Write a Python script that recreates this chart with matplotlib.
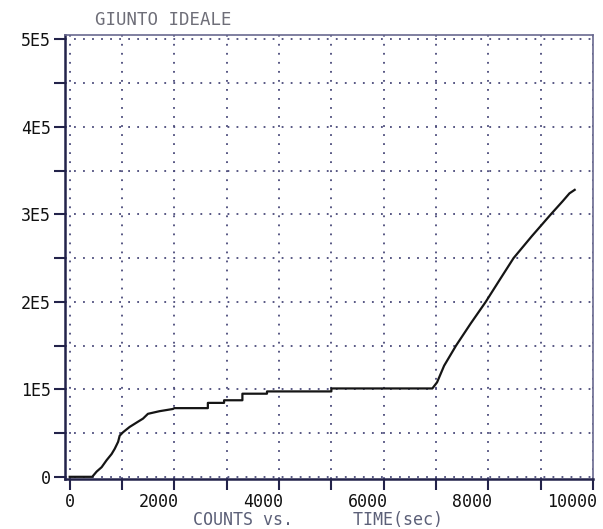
import matplotlib
matplotlib.use("Agg")
import matplotlib.pyplot as plt
from matplotlib.ticker import MultipleLocator, FixedLocator
import matplotlib.transforms as mtrans

# data (time in s, counts); repeated times are the jumps
time_s = [0, 430, 515, 610, 705, 800, 860, 925, 955, 1020, 1145, 1305, 1400, 1495,
          1715, 1970, 2000, 2640, 2640, 2950, 2950, 3300, 3300, 3770, 3770,
          5000, 5000, 6930,
          7020, 7155, 7383, 7660, 7950, 8215, 8482, 8830, 9194, 9420, 9550, 9650]
counts = [0, 0, 6e3, 11e3, 19e3, 26e3, 32e3, 40e3, 47e3, 51e3, 57e3, 63e3, 66.5e3, 72e3,
          75e3, 77.5e3, 78.5e3, 78.5e3, 84.5e3, 84.5e3, 87.5e3, 87.5e3, 95e3, 95e3, 97.6e3,
          97.6e3, 101e3, 101e3,
          108e3, 127e3, 150e3, 175e3, 200e3, 225e3, 250e3, 275e3, 300e3, 315e3, 324e3, 328e3]

ytick_vals = [0, 1e5, 2e5, 3e5, 4e5, 5e5]
ytick_text = ["0", "1E5", "2E5", "3E5", "4E5", "5E5"]
xtick_vals = [0, 2000, 4000, 6000, 8000, 10000]

mono = "DejaVu Sans Mono"
navy = "#23234a"
dotc = "#4a4a7a"

fig = plt.figure(figsize=(6.03, 5.29), dpi=100)
ax = fig.add_axes([65 / 603, 50 / 529, 528 / 603, 444 / 529])

ax.plot(time_s, counts, color="#151515", lw=1.6)

ax.set_xlim(-90, 10000)
ax.set_ylim(-2500, 505000)

ax.xaxis.set_major_locator(FixedLocator(xtick_vals))
ax.xaxis.set_minor_locator(MultipleLocator(1000))
ax.yaxis.set_major_locator(FixedLocator(ytick_vals))
ax.yaxis.set_minor_locator(MultipleLocator(50000))
ax.set_yticklabels(ytick_text)
ax.set_xticklabels([str(v) for v in xtick_vals])

ax.grid(which="both", color=dotc, linestyle=(0, (1, 4)), lw=1.3)
ax.tick_params(which="both", direction="out", color=navy, width=1.5, length=8,
               labelsize=12, labelcolor="#111111", pad=2)
for lab in ax.get_xticklabels() + ax.get_yticklabels():
    lab.set_family(mono)

# multi-digit x labels sit to the left of their tick
for lab in ax.get_xticklabels()[1:]:
    lab.set_horizontalalignment("right")
    lab.set_transform(lab.get_transform() + mtrans.ScaledTranslation(4 / 100, 0, fig.dpi_scale_trans))

for side in ["left", "bottom"]:
    ax.spines[side].set_color(navy)
    ax.spines[side].set_linewidth(1.8)
for side in ["top", "right"]:
    ax.spines[side].set_color("#6a6a90")
    ax.spines[side].set_linewidth(1.2)

fig.text(95 / 603, 1 - 20 / 529, "GIUNTO IDEALE", family=mono, fontsize=12.5,
         color="#6e6e78", va="center", ha="left")
fig.text(193 / 603, 1 - 520 / 529, "COUNTS vs.      TIME(sec)", family=mono,
         fontsize=12, color="#5c6078", va="center", ha="left")

fig.savefig("out.png", dpi=100)
